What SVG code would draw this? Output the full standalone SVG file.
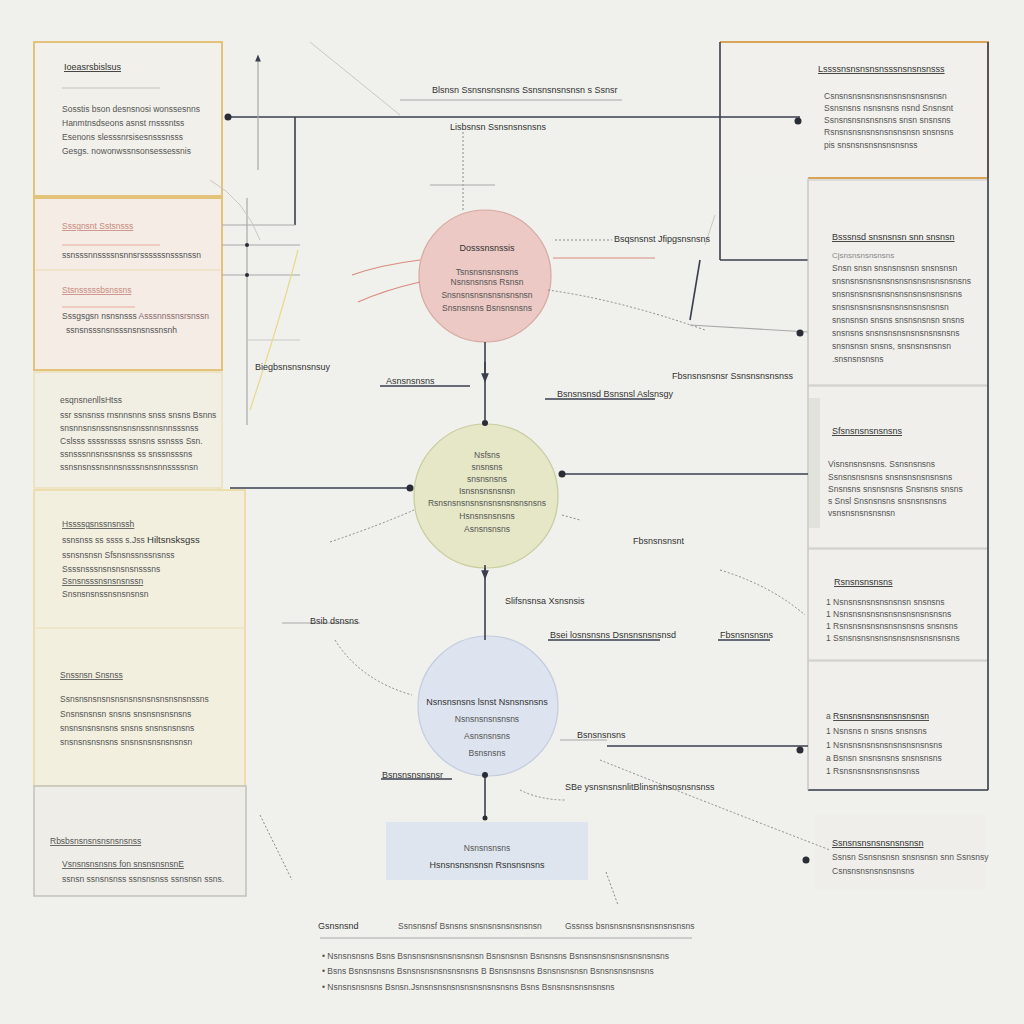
<svg xmlns="http://www.w3.org/2000/svg" width="1024" height="1024" viewBox="0 0 1024 1024">
<defs>
<style>
text{font-family:"Liberation Sans",Arial,sans-serif;fill:#4a4a4a;font-size:8.5px}
.h{font-size:9px;fill:#333;text-decoration:underline}
.t{font-size:8.5px;fill:#555}
.lt{font-size:8px;fill:#888}
.pk{font-size:8.5px;fill:#c98a80}
.c{text-anchor:middle}
.lbl{font-size:9px;fill:#333}
.dk{stroke:#3a3f4e;stroke-width:1.6;fill:none}
.gr{stroke:#a8a8a8;stroke-width:1.2;fill:none}
.lg{stroke:#c8c8c4;stroke-width:1;fill:none}
.dt{stroke:#8a8a8a;stroke-width:1;stroke-dasharray:2 2;fill:none}
.rd{stroke:#d88a7e;stroke-width:1.2;fill:none}
.yl{stroke:#e8d88a;stroke-width:1.2;fill:none}
.dot{fill:#2a2d36}
</style>
<marker id="ar" viewBox="0 0 10 10" refX="5" refY="5" markerWidth="6" markerHeight="6" orient="auto-start-reverse"><path d="M0,1 L10,5 L0,9 z" fill="#3a3f4e"/></marker>
</defs>
<rect width="1024" height="1024" fill="#f0f0ec"/>

<!-- left panels -->
<g id="panel-a">
<rect x="34" y="42" width="188" height="154" fill="#f1f0ea" stroke="#e3c27a" stroke-width="2"/>
<text x="64" y="70" class="h">Ioeasrsbislsus</text>
<line x1="62" y1="88" x2="160" y2="88" stroke="#d9d9d2" stroke-width="2"/>
<text x="62" y="112" class="t">Sosstis bson desnsnosi wonssesnns</text>
<text x="62" y="126" class="t">Hanmtnsdseons asnst rnsssntss</text>
<text x="62" y="140" class="t">Esenons slesssnrsisesnsssnsss</text>
<text x="62" y="154" class="t">Gesgs. nowonwssnsonsessessnis</text>
</g>
<g id="panel-b">
<rect x="34" y="198" width="188" height="172" fill="#f4ece5" stroke="#e3c27a" stroke-width="2"/>
<text x="62" y="229" class="pk" text-decoration="underline">Sssgnsnt Sstsnsss</text>
<line x1="62" y1="245" x2="160" y2="245" stroke="#efc0b6" stroke-width="1.5"/>
<text x="62" y="258" class="t" font-size="8">ssnsssnnssssnsnnsrssssssnsssnssn</text>
<line x1="36" y1="270" x2="220" y2="270" stroke="#ecd8b0" stroke-width="1"/>
<text x="62" y="293" class="pk" text-decoration="underline">Stsnsssssbsnssns</text>
<line x1="62" y1="307" x2="135" y2="307" stroke="#efc0b6" stroke-width="1.5"/>
<text x="62" y="319" class="t" font-size="8">Sssgsgsn nsnsnsss  <tspan fill="#8a6a70">Asssnnssnsrsnssn</tspan></text>
<text x="66" y="333" class="t" font-size="8">ssnsnsssnsnsssnsnsnssnsnh</text>
</g>
<g id="panel-c">
<rect x="34" y="372" width="188" height="116" fill="#f1efe3" stroke="#ece0b8" stroke-width="1.5"/>
<text x="60" y="403" class="t" fill="#999">esqnsnenllsHtss</text>
<text x="60" y="418" class="t">ssr ssnsnss rnsnnsnns snss snsns  Bsnns</text>
<text x="60" y="431" class="t" fill="#999">snsnnsnsnssnsnsnsnssnnsnnsssnss</text>
<text x="60" y="444" class="t">Cslsss ssssnssss ssnsns ssnsss  Ssn.</text>
<text x="60" y="457" class="t">ssnsssnnsnssnsnss ss snssnsssns</text>
<text x="60" y="470" class="t">ssnsnsnssnsnnsnsssnsnsnnssssnsn</text>
</g>
<g id="panel-d">
<rect x="34" y="490" width="211" height="296" fill="#f2efdf" stroke="#ead79c" stroke-width="1.5"/>
<text x="62" y="527" class="t" fill="#888" text-decoration="underline">Hssssgsnssnsnssh</text>
<text x="62" y="543" class="t">ssnsnss ss ssss s.Jss  <tspan fill="#333" font-size="9.5">Hiltsnsksgss</tspan></text>
<text x="62" y="558" class="t">ssnsnsnsn  Sfsnsnssnssnsnss</text>
<text x="62" y="572" class="t">Ssssnsssnsnsnsnsnsssns</text>
<text x="62" y="584" class="t" text-decoration="underline">Ssnsnsssnsnsnsnssn</text>
<text x="62" y="597" class="t">Snsnsnsnssnsnsnsnsn</text>
<line x1="36" y1="628" x2="245" y2="628" stroke="#ece3c2" stroke-width="1.5"/>
<text x="60" y="678" class="t" fill="#999" text-decoration="underline">Snssnsn Snsnss</text>
<text x="60" y="702" class="t">Ssnsnsnsnsnsnsnsnsnsnsnsnsnsnssns</text>
<text x="60" y="717" class="t">Snsnsnsnsn snsns snsnsnsnsnsns</text>
<text x="60" y="731" class="t">snsnsnsnsnsns snsns snsnsnsnsns</text>
<text x="60" y="745" class="t">snsnsnsnsnsns snsnsnsnsnsnsnsn</text>
</g>
<g id="panel-e">
<rect x="34" y="786" width="212" height="110" fill="#eeede8" stroke="#c2c2bc" stroke-width="1.5"/>
<text x="50" y="844" class="t" text-decoration="underline">Rbsbsnsnsnsnsnsnsnss</text>
<text x="62" y="867" class="t" text-decoration="underline">Vsnsnsnsnsns fon snsnsnsnsnE</text>
<text x="62" y="882" class="t">ssnsn ssnsnsnss ssnsnsnss ssnsnsn ssns.</text>
</g>

<!-- right panels -->
<g id="panel-r1">
<rect x="720" y="42" width="268" height="136" fill="#f1f0ec" stroke="none"/>
<path d="M720,42 H988 V178" stroke="#d9a458" stroke-width="2" fill="none"/>
<line x1="808" y1="178" x2="988" y2="178" stroke="#d9a458" stroke-width="2"/>
<text x="818" y="72" class="h" font-size="8.5">Lssssnsnsnsnsnsssnsnsnsnsss</text>
<text x="824" y="99" class="t">Csnsnsnsnsnsnsnsnsnsnsnsnsn</text>
<text x="824" y="111" class="t">Ssnsnsns nsnsnsns nsnd  Snsnsnt</text>
<text x="824" y="123" class="t">Ssnsnsnsnsnsnsns snsn snsnsns</text>
<text x="824" y="135" class="t">Rsnsnsnsnsnsnsnsnsnsn snsnsns</text>
<text x="824" y="148" class="t">pis  snsnsnsnsnsnsnsnss</text>
</g>
<g id="panel-r2">
<rect x="808" y="180" width="180" height="205" fill="#f0efeb" stroke="#c8c8c4" stroke-width="1"/>
<text x="832" y="240" class="h">Bsssnsd snsnsnsn snn snsnsn</text>
<text x="832" y="258" class="lt">Cjsnsnsnsnsnsns</text>
<text x="832" y="271" class="t" font-size="8">Snsn snsn snsnsnsnsn snsnsnsn</text>
<text x="832" y="284" class="t" font-size="8">snsnsnsnsnsnsnsnsnsnsnsnsnsnsns</text>
<text x="832" y="297" class="t" font-size="8">snsnsnsnsnsnsnsnsnsnsnsnsnsns</text>
<text x="832" y="310" class="t" font-size="8">snsnsnsnsnsnsnsnsnsnsnsnsn</text>
<text x="832" y="323" class="t" font-size="8">snsnsnsn snsns snsnsnsnsn snsns</text>
<text x="832" y="336" class="t" font-size="8">snsnsns snsnsnsnsnsnsnsnsnsns</text>
<text x="832" y="349" class="t" font-size="8">snsnsnsn  snsns, snsnsnsnsnsn</text>
<text x="832" y="362" class="t" font-size="8">.snsnsnsnsns</text>
</g>
<g id="panel-r3">
<rect x="808" y="386" width="180" height="162" fill="#f0efeb" stroke="#c8c8c4" stroke-width="1"/>
<rect x="808" y="398" width="12" height="130" fill="#d8d8d4" opacity="0.6"/>
<text x="832" y="434" class="h">Sfsnsnsnsnsnsns</text>
<text x="828" y="467" class="t" font-size="8">Visnsnsnsnsns.  Ssnsnsnsns</text>
<text x="828" y="480" class="t" font-size="8">Ssnsnsnsnsns  snsnsnsnsnsnsns</text>
<text x="828" y="492" class="t" font-size="8">Snsnsns snsnsnsns Snsnsns snsns</text>
<text x="828" y="504" class="t" font-size="8">s  Snsl  Snsnsnsns snsnsnsnsns</text>
<text x="828" y="516" class="t" font-size="8">vsnsnsnsnsnsnsn</text>
</g>
<g id="panel-r4">
<rect x="808" y="549" width="180" height="111" fill="#f0efeb" stroke="#c8c8c4" stroke-width="1"/>
<text x="834" y="585" class="h">Rsnsnsnsnsns</text>
<text x="826" y="605" class="t" font-size="8">1  Nsnsnsnsnsnsnsnsn  snsnsns</text>
<text x="826" y="617" class="t" font-size="8">1  Nsnsnsnsnsnsnsnsnsnsnsnsns</text>
<text x="826" y="629" class="t" font-size="8">1  Rsnsnsnsnsnsnsnsnsns snsnsns</text>
<text x="826" y="641" class="t" font-size="8">1  Ssnsnsnsnsnsnsnsnsnsnsnsnsns</text>
</g>
<g id="panel-r5">
<rect x="808" y="661" width="180" height="129" fill="#f0efeb" stroke="#c8c8c4" stroke-width="1"/>
<line x1="808" y1="790" x2="988" y2="790" stroke="#3a3f4e" stroke-width="1.4"/>
<text x="826" y="719" class="t" font-size="8">a  <tspan fill="#333" text-decoration="underline">Rsnsnsnsnsnsnsnsnsnsn</tspan></text>
<text x="826" y="734" class="t" font-size="8">1  Nsnsns n snsns  snsnsns</text>
<text x="826" y="748" class="t" font-size="8">1  Nsnsnsnsnsnsnsnsnsnsnsns</text>
<text x="826" y="761" class="t" font-size="8">a  Bsnsn snsnsnsns snsnsnsns</text>
<text x="826" y="774" class="t" font-size="8">1  Rsnsnsnsnsnsnsnsnss</text>
</g>
<g id="panel-r6">
<rect x="815" y="815" width="170" height="75" fill="#efeeea" stroke="none"/>
<text x="832" y="846" class="h">Ssnsnsnsnsnsnsnsnsn</text>
<text x="832" y="860" class="t">Ssnsn Ssnsnsnsn snsnsnsn snn Ssnsnsy</text>
<text x="832" y="874" class="t">Csnsnsnsnsnsnsnsns</text>
<circle cx="806" cy="860" r="3.5" class="dot"/>
</g>

<!-- central nodes -->
<g id="node-pink">
<circle cx="485" cy="276" r="66" fill="#ecc9c4" stroke="#d6a8a0" stroke-width="1.2"/>
<text x="487" y="251" class="lbl c">Dosssnsnssis</text>
<text x="487" y="275" class="t c" fill="#999">Tsnsnsnsnsnsns</text>
<text x="487" y="285" class="t c" fill="#888">Nsnsnsnsns  Rsnsn</text>
<text x="487" y="298" class="t c" fill="#333">Snsnsnsnsnsnsnsnsnsn</text>
<text x="487" y="311" class="t c" fill="#333">Snsnsnsns Bsnsnsnsns</text>
</g>
<g id="node-green">
<circle cx="486" cy="496" r="72" fill="#e5e7c7" stroke="#c8cb9c" stroke-width="1.2"/>
<text x="487" y="458" class="t c" fill="#555">Nsfsns</text>
<text x="487" y="470" class="t c" fill="#888">snsnsns</text>
<text x="487" y="482" class="t c" fill="#888">snsnsnsns</text>
<text x="487" y="494" class="t c" fill="#333">Isnsnsnsnsnsn</text>
<text x="487" y="506" class="t c" fill="#333">Rsnsnsnsnsnsnsnsnsnsnsnsns</text>
<text x="487" y="519" class="t c" fill="#333">Hsnsnsnsnsns</text>
<text x="487" y="532" class="t c" fill="#333">Asnsnsnsns</text>
</g>
<g id="node-blue">
<circle cx="488" cy="706" r="70" fill="#dde3ef" stroke="#c3cbdf" stroke-width="1.2"/>
<text x="487" y="705" class="lbl c">Nsnsnsnsns lsnst Nsnsnsnsns</text>
<text x="487" y="722" class="t c">Nsnsnsnsnsnsns</text>
<text x="487" y="739" class="t c">Asnsnsnsns</text>
<text x="487" y="756" class="t c">Bsnsnsns</text>
</g>
<g id="node-rect">
<rect x="386" y="822" width="202" height="58" fill="#dfe5ef" stroke="none"/>
<text x="487" y="851" class="t c" fill="#444">Nsnsnsnsns</text>
<text x="487" y="868" class="lbl c">Hsnsnsnsnsnsn Rsnsnsnsns</text>
</g>

<!-- connectors -->
<g id="connectors">
<line x1="310" y1="42" x2="400" y2="115" class="lg"/>
<line x1="400" y1="100" x2="622" y2="100" class="gr"/>
<line x1="228" y1="117" x2="800" y2="117" class="dk"/>
<circle cx="228" cy="117" r="3.5" class="dot"/>
<circle cx="798" cy="121" r="3.5" class="dot"/>
<line x1="258" y1="170" x2="258" y2="58" class="gr" marker-end="url(#ar)"/>
<line x1="295" y1="117" x2="295" y2="225" class="dk" stroke-width="1.2"/>
<line x1="222" y1="225" x2="295" y2="225" class="gr"/>
<line x1="463" y1="132" x2="463" y2="212" class="dt" stroke-dasharray="1 2"/>
<line x1="430" y1="185" x2="495" y2="185" class="gr"/>
<line x1="247" y1="198" x2="247" y2="425" class="gr"/>
<line x1="222" y1="245" x2="300" y2="245" class="gr"/>
<line x1="222" y1="275" x2="300" y2="275" class="gr"/>
<line x1="247" y1="340" x2="300" y2="340" class="lg"/>
<circle cx="247" cy="245" r="2" class="dot"/>
<circle cx="247" cy="275" r="2" class="dot"/>
<path d="M210,180 Q245,200 260,240" class="lg"/>
<path d="M298,250 Q280,320 250,410" class="yl"/>
<path d="M420,260 Q380,265 352,275" class="rd"/>
<path d="M420,282 Q385,290 358,302" class="rd"/>
<line x1="555" y1="240" x2="612" y2="240" class="dt"/>
<line x1="553" y1="258" x2="655" y2="258" class="rd"/>
<path d="M548,290 Q620,300 705,330" class="dt"/>
<line x1="485" y1="342" x2="485" y2="420" class="dk" stroke-width="1.2"/>
<path d="M485,362 L485,378" class="dk" stroke-width="1.2" marker-end="url(#ar)"/>
<circle cx="485" cy="423" r="3" class="dot"/>
<line x1="720" y1="42" x2="720" y2="260" class="dk" stroke-width="1.4"/>
<line x1="720" y1="260" x2="808" y2="260" class="dk" stroke-width="1.4"/>
<line x1="715" y1="215" x2="705" y2="245" class="lg"/>
<line x1="700" y1="260" x2="690" y2="320" class="dk" stroke-width="1"/>
<line x1="690" y1="325" x2="808" y2="332" class="gr"/>
<circle cx="800" cy="333" r="3.5" class="dot"/>
<line x1="988" y1="42" x2="988" y2="790" class="dk" stroke-width="1.4"/>
<line x1="808" y1="178" x2="808" y2="790" class="lg"/>
<line x1="380" y1="386" x2="470" y2="386" class="dk" stroke-width="1.2"/>
<line x1="545" y1="399" x2="655" y2="399" class="dk" stroke-width="1.2"/>
<line x1="230" y1="488" x2="410" y2="488" class="dk"/>
<circle cx="410" cy="488" r="3.5" class="dot"/>
<line x1="562" y1="474" x2="808" y2="474" class="dk"/>
<circle cx="562" cy="474" r="3.5" class="dot"/>
<path d="M330,542 Q380,525 414,510" class="dt"/>
<path d="M562,515 L580,520" class="dt"/>
<line x1="485" y1="568" x2="485" y2="640" class="dk" stroke-width="1.2"/>
<path d="M485,565 L485,575" class="dk" stroke-width="1.2" marker-end="url(#ar)"/>
<line x1="282" y1="623" x2="360" y2="623" class="gr"/>
<line x1="548" y1="640" x2="660" y2="640" class="dk" stroke-width="1.2"/>
<line x1="718" y1="640" x2="770" y2="640" class="dk" stroke-width="1.2"/>
<path d="M720,570 Q770,585 805,615" class="dt"/>
<path d="M335,640 Q360,680 412,695" class="dt"/>
<line x1="560" y1="740" x2="607" y2="740" class="gr"/>
<line x1="607" y1="746" x2="808" y2="746" class="dk" stroke-width="1.4"/>
<circle cx="800" cy="750" r="3.5" class="dot"/>
<line x1="485" y1="772" x2="485" y2="820" class="dk" stroke-width="1.2"/>
<circle cx="485" cy="775" r="3" class="dot"/>
<circle cx="485" cy="818" r="2.5" class="dot"/>
<line x1="381" y1="779" x2="452" y2="779" class="dk" stroke-width="1.2"/>
<path d="M600,760 Q700,800 830,850" class="dt"/>
<path d="M520,790 Q540,800 565,800" class="dt"/>
<line x1="260" y1="815" x2="292" y2="880" class="dt"/>
<line x1="606" y1="872" x2="618" y2="905" class="dt"/>
<line x1="320" y1="938" x2="692" y2="938" class="gr"/>
</g>

<!-- free labels -->
<g id="labels">
<text x="432" y="93" class="lbl">Blsnsn Ssnsnsnsnsns Ssnsnsnsnsnsn s Ssnsr</text>
<text x="450" y="130" class="lbl">Lisbsnsn Ssnsnsnsnsns</text>
<text x="614" y="242" class="lbl">Bsqsnsnst Jfipgsnsnsns</text>
<text x="255" y="370" class="lbl">Biegbsnsnsnsnsuy</text>
<text x="386" y="384" class="lbl">Asnsnsnsns</text>
<text x="557" y="397" class="lbl">Bsnsnsnsd Bsnsnsl Aslsnsgy</text>
<text x="672" y="379" class="lbl">Fbsnsnsnsnsr Ssnsnsnsnsnss</text>
<text x="633" y="544" class="lbl">Fbsnsnsnsnt</text>
<text x="505" y="604" class="lbl">Slifsnsnsa  Xsnsnsis</text>
<text x="310" y="624" class="lbl">Bsib dsnsns</text>
<text x="550" y="638" class="lbl">Bsei  losnsnsns  Dsnsnsnsnsnsd</text>
<text x="720" y="638" class="lbl">Fbsnsnsnsns</text>
<text x="577" y="738" class="lbl">Bsnsnsnsns</text>
<text x="382" y="778" class="lbl">Bsnsnsnsnsnsr</text>
<text x="565" y="790" class="lbl">SBe  ysnsnsnsnlitBlinsnsnsnsnsnsnss</text>
<text x="318" y="929" class="lbl">Gsnsnsnd</text>
<text x="398" y="929" class="t">Ssnsnsnsf Bsnsns snsnsnsnsnsnsnsn</text>
<text x="565" y="929" class="t">Gssnss bsnsnsnsnsnsnsnsnsnsns</text>
<text x="322" y="959" class="t" font-size="7.8">•  Nsnsnsnsns Bsns Bsnsnsnsnsnsnsnsnsn Bsnsnsnsn Bsnsnsns Bsnsnsnsnsnsnsnsnsnsns</text>
<text x="322" y="974" class="t" font-size="7.8">•  Bsns Bsnsnsnsns Bsnsnsnsnsnsnsnsns  B  Bsnsnsnsns Bsnsnsnsnsn Bsnsnsnsnsnsns</text>
<text x="322" y="990" class="t" font-size="7.8">•  Nsnsnsnsnsns Bsnsn.Jsnsnsnsnsnsnsnsnsnsnsns Bsns  Bsnsnsnsnsnsnsns</text>
</g>
</svg>
